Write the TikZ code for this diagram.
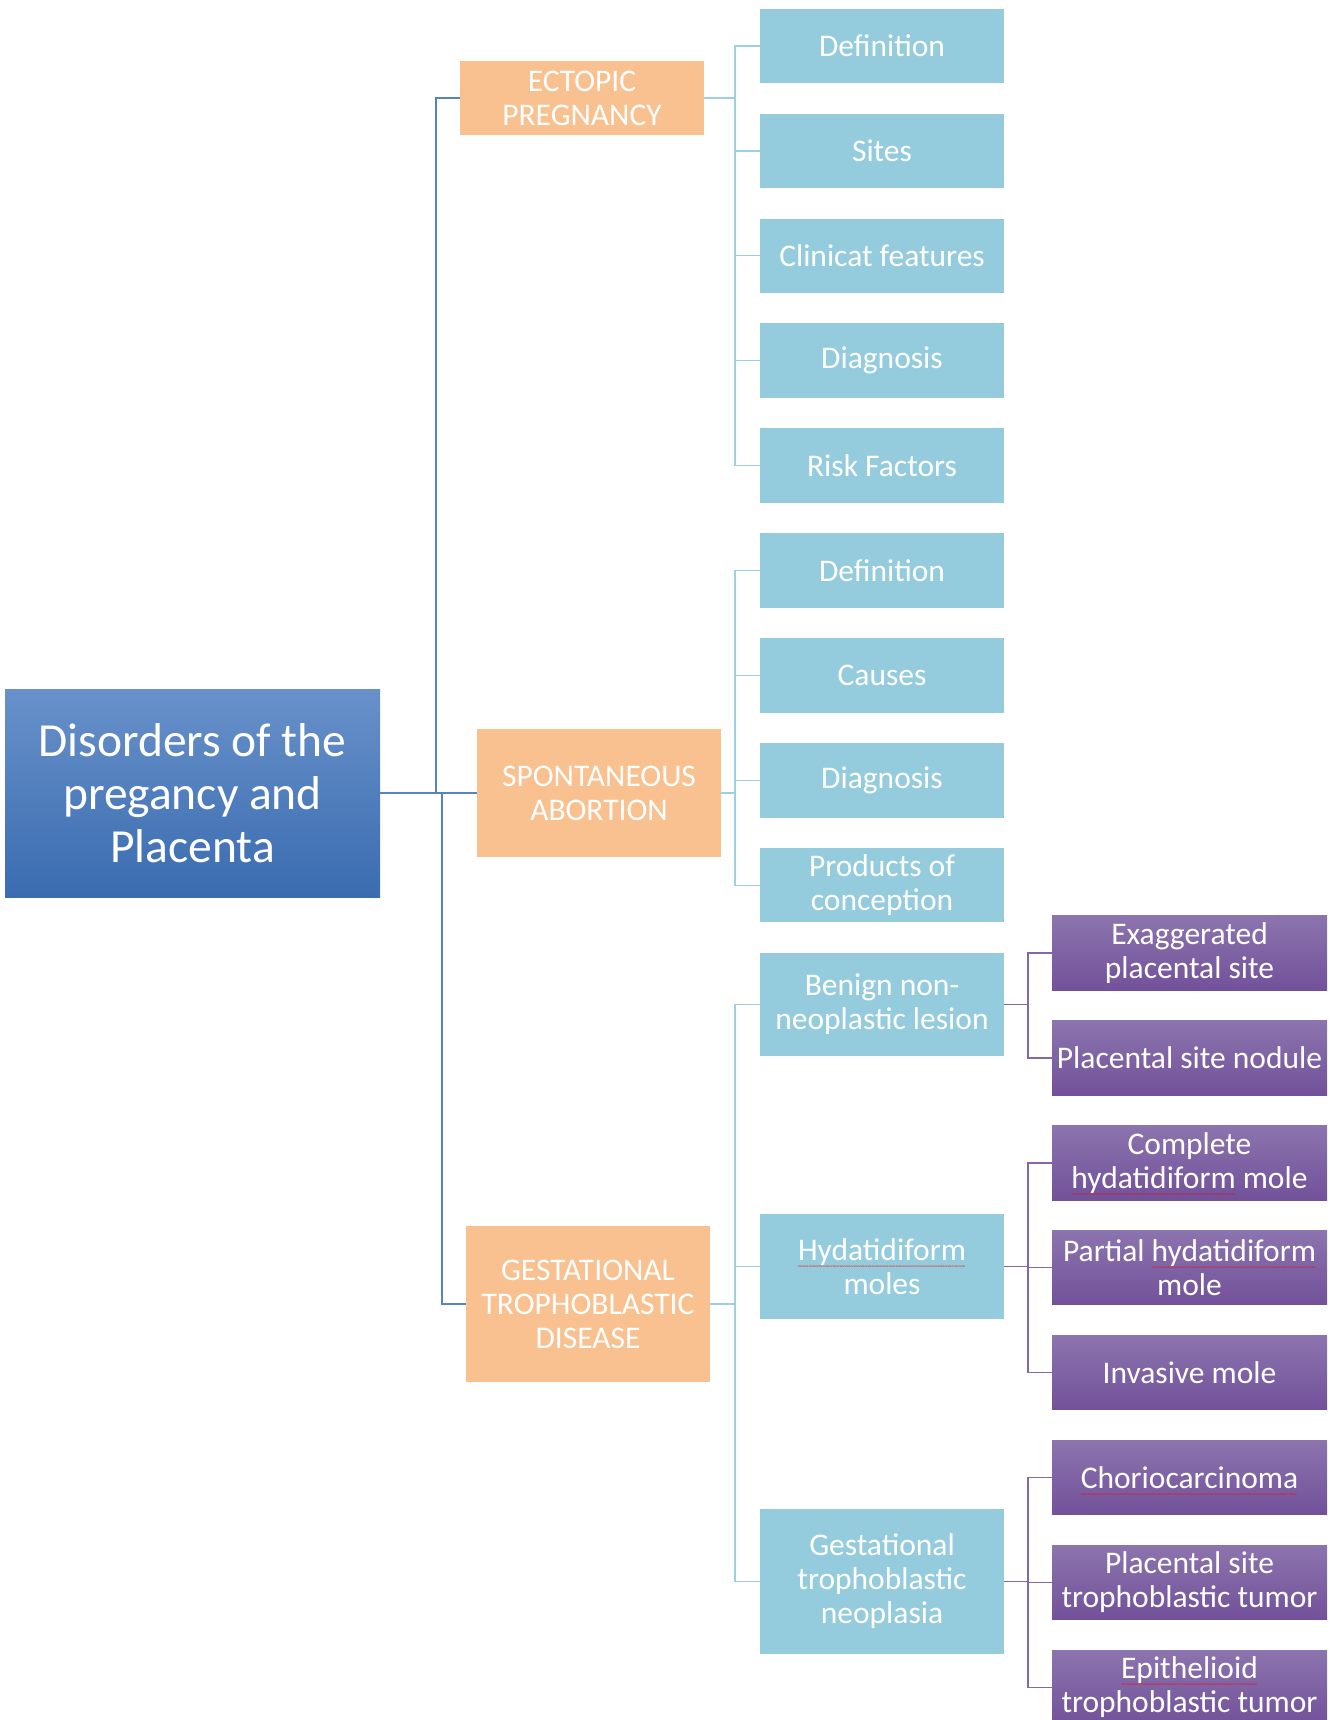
\documentclass[tikz,border=0pt]{standalone}
\usepackage{fontspec}
\setmainfont{Carlito}
\usetikzlibrary{calc}
\definecolor{rootTop}{HTML}{6891CA}
\definecolor{rootBot}{HTML}{3A6CB0}
\definecolor{orangeF}{HTML}{F9C18F}
\definecolor{blueF}{HTML}{94CCDD}
\definecolor{purpTop}{HTML}{8C74AE}
\definecolor{purpBot}{HTML}{72519A}
\definecolor{lineA}{HTML}{5683C2}
\definecolor{lineB}{HTML}{9DD0E0}
\definecolor{lineC}{HTML}{8467A6}
\newcommand\sperr[1]{\hbox{\setbox0=\hbox{#1}\rlap{\raisebox{-8pt}[0pt][0pt]{\color{red}\fontsize{7}{7}\selectfont\hbox to \wd0{\leaders\hbox{\char"007E}\hfill}}}\box0}}
\begin{document}
\begin{tikzpicture}[x=1pt,y=-1pt,
  rootbox/.style={rectangle, inner sep=0pt, minimum width=375pt, minimum height=208pt,
    top color=rootTop, bottom color=rootBot, text=white, align=center,
    font=\fontsize{47.5}{52.7}\selectfont},
  lvlone/.style={rectangle, inner sep=0pt, minimum width=244pt, fill=orangeF,
    text=white, align=center, font=\fontsize{31.5}{34}\selectfont},
  lvltwo/.style={rectangle, inner sep=0pt, minimum width=244pt, minimum height=74.5pt, fill=blueF,
    text=white, align=center, font=\fontsize{31.5}{34}\selectfont},
  lvlthree/.style={rectangle, inner sep=0pt, minimum width=275pt, minimum height=74.5pt,
    top color=purpTop, bottom color=purpBot,
    text=white, align=center, font=\fontsize{31.5}{34}\selectfont},
  conA/.style={draw=lineA, line width=1.4pt},
  conB/.style={draw=lineB, line width=1.4pt},
  conC/.style={draw=lineC, line width=1.4pt}
]
\useasboundingbox (0,0) rectangle (1335,1720);
\clip (0,0) rectangle (1335,1720);

% branch x positions
\coordinate (bA) at (436,0);
\coordinate (bB) at (442,0);
\coordinate (bC) at (735,0);
\coordinate (bD) at (1028,0);

% root
\node[rootbox] (root) at (192.5,793) {Disorders of the\\pregancy and\\Placenta};

% level 1
\node[lvlone, minimum height=74pt] (ect) at (582,98) {ECTOPIC\\PREGNANCY};
\node[lvlone, minimum height=128pt] (spo) at (599,793) {SPONTANEOUS\\ABORTION};
\node[lvlone, minimum height=156pt] (gtd) at (588,1304) {GESTATIONAL\\TROPHOBLASTIC\\DISEASE};

% level 2
\node[lvltwo] (e1) at (882,46) {Definition};
\node[lvltwo] (e2) at (882,150.9) {Sites};
\node[lvltwo] (e3) at (882,255.8) {Clinicat features};
\node[lvltwo] (e4) at (882,360.7) {Diagnosis};
\node[lvltwo] (e5) at (882,465.6) {Risk Factors};
\node[lvltwo] (s1) at (882,570.5) {Definition};
\node[lvltwo] (s2) at (882,675.4) {Causes};
\node[lvltwo] (s3) at (882,780.3) {Diagnosis};
\node[lvltwo] (s4) at (882,885.2) {Products of\\conception};
\node[lvltwo, minimum height=103pt] (g1) at (882,1004.5) {Benign non-\\neoplastic lesion};
\node[lvltwo, minimum height=105pt] (g2) at (882,1266.5) {\sperr{Hydatidiform}\\moles};
\node[lvltwo, minimum height=145pt] (g3) at (882,1581.5) {Gestational\\trophoblastic\\neoplasia};

% level 3
\node[lvlthree] (b1) at (1189.5,953) {Exaggerated\\placental site};
\node[lvlthree] (b2) at (1189.5,1057.9) {Placental site nodule};
\node[lvlthree] (h1) at (1189.5,1162.8) {Complete\\\sperr{hydatidiform} mole};
\node[lvlthree] (h2) at (1189.5,1267.7) {Partial \sperr{hydatidiform}\\mole};
\node[lvlthree] (h3) at (1189.5,1372.6) {Invasive mole};
\node[lvlthree] (n1) at (1189.5,1477.5) {\sperr{Choriocarcinoma}};
\node[lvlthree] (n2) at (1189.5,1582.4) {Placental site\\trophoblastic tumor};
\node[lvlthree] (n3) at (1189.5,1687.3) {\sperr{Epithelioid}\\trophoblastic tumor};

% connectors root -> level 1
\draw[conA] (root.east) -- (root.east -| bA) |- (ect.west);
\draw[conA] (root.east) -- (spo.west);
\draw[conA] (root.east) -- (root.east -| bB) |- (gtd.west);

% level 1 -> level 2
\foreach \c in {e1,e2,e3,e4,e5}
  \draw[conB] (ect.east) -- (ect.east -| bC) |- (\c.west);
\foreach \c in {s1,s2,s3,s4}
  \draw[conB] (spo.east) -- (spo.east -| bC) |- (\c.west);
\foreach \c in {g1,g2,g3}
  \draw[conB] (gtd.east) -- (gtd.east -| bC) |- (\c.west);

% level 2 -> level 3
\foreach \c in {b1,b2}
  \draw[conC] (g1.east) -- (g1.east -| bD) |- (\c.west);
\foreach \c in {h1,h2,h3}
  \draw[conC] (g2.east) -- (g2.east -| bD) |- (\c.west);
\foreach \c in {n1,n2,n3}
  \draw[conC] (g3.east) -- (g3.east -| bD) |- (\c.west);
\end{tikzpicture}
\end{document}
